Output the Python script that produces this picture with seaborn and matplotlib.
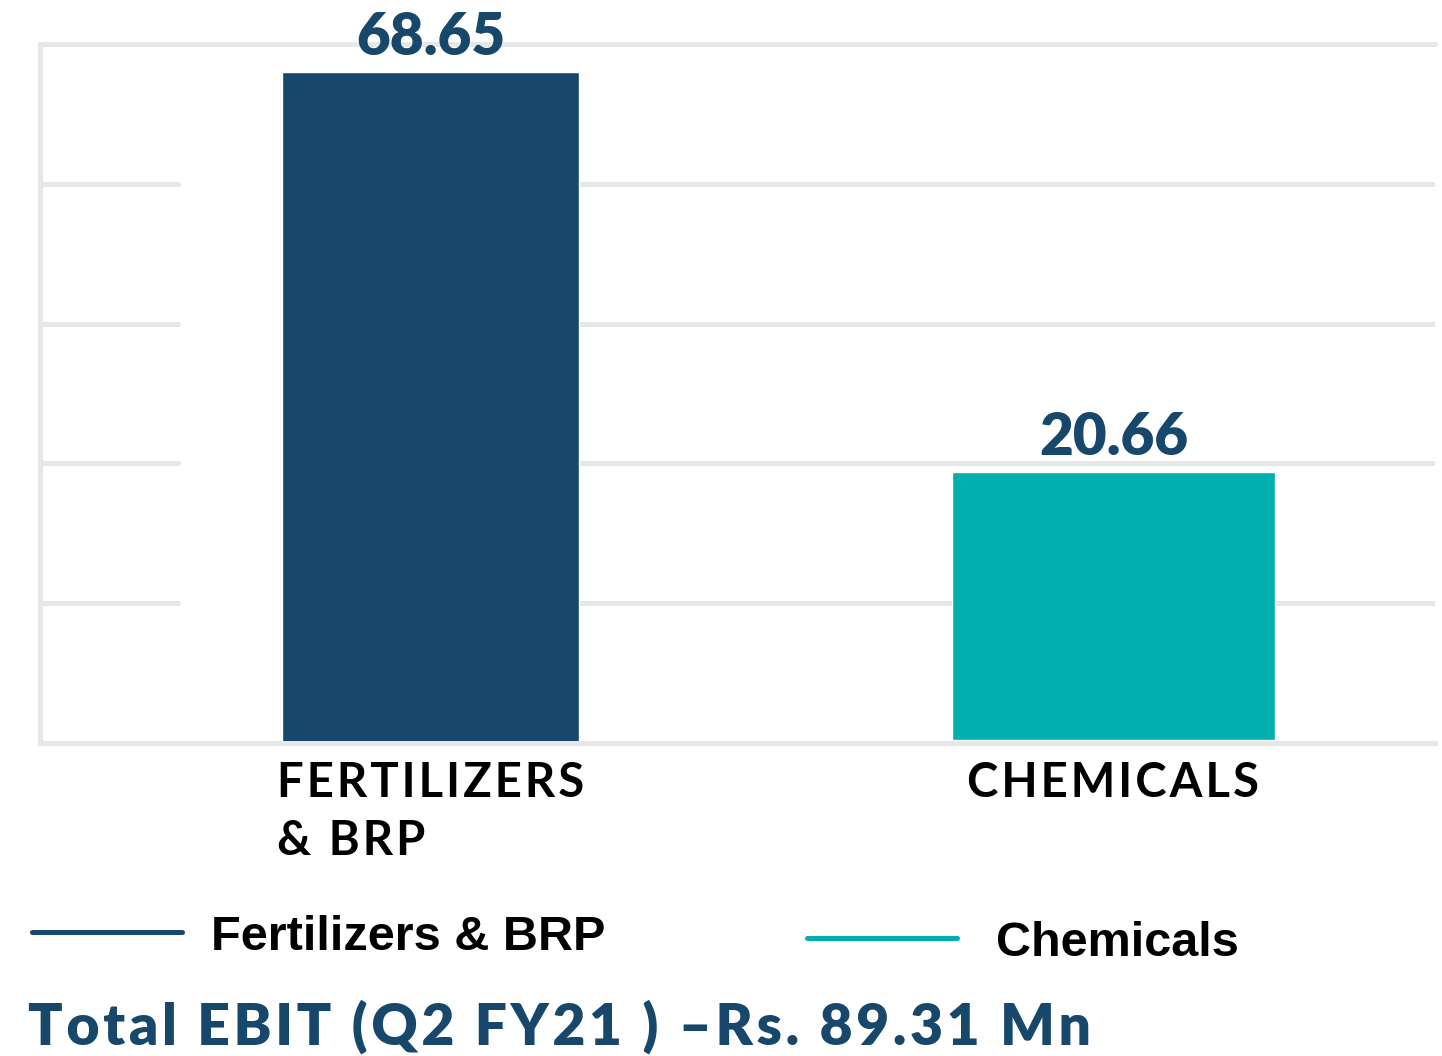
import pandas as pd
import matplotlib.pyplot as plt
import seaborn as sns
from matplotlib.lines import Line2D

categories = ['FERTILIZERS\n& BRP', 'CHEMICALS']
series = ['Fertilizers & BRP', 'Chemicals']
ebit = [68.65, 20.66]
colors = ['#17476A', '#02AFAF']
title = 'Total EBIT (Q2 FY21 ) \u2013Rs. 89.31 Mn'

grid_c = '#E6E7E7'

sns.set_style('white')
plt.rcParams['font.family'] = ['Lato', 'DejaVu Sans']

fig = plt.figure(figsize=(14.42, 10.56), dpi=100)
ax = fig.add_axes([40/1442, 1 - 743/1056, 1395/1442, 699/1056])
ax2 = ax.twinx()

df1 = pd.DataFrame({'cat': [categories[0]], 'val': [ebit[0]]})
df2 = pd.DataFrame({'cat': [categories[1]], 'val': [ebit[1]]})
sns.barplot(data=df1, x='cat', y='val', order=categories, color=colors[0],
            width=0.435, saturation=1, ax=ax)
sns.barplot(data=df2, x='cat', y='val', order=categories, color=colors[1],
            width=0.473, saturation=1, ax=ax2)

ax.set_xlim(-0.572, 1.471)
ax.set_ylim(0, 71.52)
ax2.set_ylim(-0.23, 53.65)

# grid: broken segments like the original
step = 71.52 / 5
for i in range(1, 5):
    ax.axhline(step * i, xmin=0, xmax=0.099, color=grid_c, lw=3.6, zorder=0)
    ax.axhline(step * i, xmin=0.387, xmax=1, color=grid_c, lw=3.6, zorder=0)
ax.axhline(71.52, color=grid_c, lw=3.6, zorder=0, clip_on=False)

for a in (ax, ax2):
    a.set_xlabel('')
    a.set_ylabel('')
    a.set_yticks([])
    for s in a.spines.values():
        s.set_visible(False)
ax.spines['left'].set_visible(True)
ax.spines['bottom'].set_visible(True)
ax.spines['left'].set_color(grid_c)
ax.spines['bottom'].set_color(grid_c)
ax.spines['left'].set_linewidth(3.6)
ax.spines['bottom'].set_linewidth(3.6)


def spaced(s):
    return '\n'.join('\u200a'.join(line) for line in s.split('\n'))


ax.set_xticks(range(len(categories)))
ax.set_xticklabels([spaced(c) for c in categories], fontsize=34,
                   fontweight='bold', color='black', linespacing=1.39)
for lab in ax.get_xticklabels():
    lab.set_multialignment('left')
ax.tick_params(axis='x', length=0, pad=13)
ax2.tick_params(axis='x', length=0)

ax.bar_label(ax.containers[0], fmt='%.2f', padding=6, fontsize=42,
             fontweight='heavy', color=colors[0])
ax2.bar_label(ax2.containers[0], fmt='%.2f', padding=6, fontsize=42,
              fontweight='heavy', color=colors[0])

leg_font = {'family': ['Liberation Sans Narrow', 'Liberation Sans'],
            'weight': 'bold', 'size': 35}
h1 = Line2D([], [], color=colors[0], lw=3.6)
h2 = Line2D([], [], color=colors[1], lw=3.6)
fig.legend([h1], [series[0]], loc='center left', bbox_to_anchor=(-12/1442, 1 - 937/1056),
           frameon=False, prop=leg_font, handlelength=3.1, handletextpad=0.58,
           labelcolor='black')
fig.legend([h2], [series[1]], loc='center left', bbox_to_anchor=(763/1442, 1 - 943/1056),
           frameon=False, prop=leg_font, handlelength=3.1, handletextpad=0.8,
           labelcolor='black')

fig.text(28/1442, 1 - 1045/1056, spaced(title), fontsize=41, fontweight='heavy',
         color=colors[0], ha='left', va='baseline')

fig.savefig('out.png', dpi=100)
